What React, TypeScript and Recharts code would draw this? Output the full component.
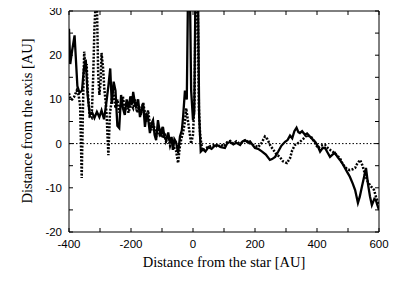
import React from "react";
import { LineChart, Line, XAxis, YAxis, ReferenceLine, Customized } from "recharts";

const xTicks = [-400, -300, -200, -100, 0, 100, 200, 300, 400, 500, 600];
const yTicks = [-20, -15, -10, -5, 0, 5, 10, 15, 20, 25, 30];

const solidX = [
  -400, -396, -390, -382, -373, -366, -358, -352, -346, -340, -333, -325, -318, -310, -302, -295, -287, -280,
  -273, -267, -262, -256, -250, -244, -238, -232, -226, -220, -214, -208, -202, -196, -193, -187, -184, -177,
  -171, -165, -161, -155, -150, -145, -139, -134, -129, -124, -119, -113, -108, -103, -97, -92, -87, -80, -74,
  -69, -65, -60, -55, -48, -42, -36, -32, -26, -20, -16, -10, -6, 0, 4, 8, 16, 20, 25, 32, 40, 50, 60, 70, 77,
  90, 103, 110, 119, 130, 140, 152, 160, 168, 176, 184, 192, 200, 210, 223, 235, 248, 255, 265, 275, 285, 297,
  305, 313, 320, 327, 334, 340, 345, 352, 361, 368, 377, 385, 394, 402, 410, 418, 426, 434, 442, 450, 458, 466,
  474, 482, 490, 498, 506, 515, 523, 532, 538, 545, 552, 558, 565, 571, 577, 585, 590, 595, 600,
];
const solidY = [
  26, 18, 21, 24.5, 13, 11.5, 12, 17, 19, 11, 6.5, 7, 5.8, 7.2, 6, 7.5, 5.5, 9,
  13, 17, 9, 14, 12, 4, 3.5, 11, 8, 6.5, 10, 8, 10.7, 9, 11.7, 9, 8.3, 10,
  6, 8, 9.2, 3.8, 6.5, 5.8, 2.4, 4.5, 5.3, 2, 0.8, 5.3, 3, 1.6, 3.8, 1.5, 0.8, 2.5, 0.1,
  1.5, -1.4, 1, 0.4, -2.1, 1.6, 3, 6, 12, 10, 35, 35, 12, 5.3, 7, 35, 35, 6, -1.8, -1.3, -1.8, -0.8, -1.2, -0.5, -0.3,
  -0.8, -1, 0, 0.4, -0.2, 0.2, -0.3, 0.5, 0.8, 0.3, 0.5, -0.3, -1, -1.2, -1.8, -2.5, -3.7, -3.5, -3, -1.8, -0.5, 0.4,
  0.8, 1.8, 1.2, 2.8, 3.6, 2.6, 2.4, 2.8, 2, 2.3, 1.6, 1, 0.4, -0.5, -1.8, -1, -1, -2, -3, -2.5, -2.1, -3,
  -3.7, -4.5, -5.5, -6.5, -7.5, -9, -10.5, -13.4, -12, -9.7, -7.5, -5.5, -9.4, -12, -13.9, -12.5, -12.8, -14, -15,
];

const dottedX = [
  -400, -395, -390, -384, -375, -369, -364, -359, -355, -351, -347, -343, -340, -333, -327, -322, -318, -314,
  -310, -306, -302, -298, -295, -290, -286, -281, -278, -273, -268, -262, -257, -250, -244, -238, -232, -226,
  -220, -214, -208, -200, -193, -187, -180, -174, -168, -161, -155, -150, -145, -139, -134, -129, -124, -119,
  -113, -108, -103, -97, -92, -87, -80, -74, -68, -62, -55, -48, -43, -38, -32, -26, -22, -18, -12, -6, 0, 5,
  9, 15, 19, 23, 26, 30, 38, 48, 60, 70, 80, 90, 100, 110, 120, 130, 140, 150, 160, 170, 180, 190, 200, 210,
  220, 232, 240, 250, 260, 270, 280, 290, 303, 313, 320, 329, 337, 345, 355, 368, 375, 384, 393, 403, 412, 420,
  426, 435, 444, 452, 462, 474, 482, 490, 498, 506, 515, 523, 530, 539, 547, 555, 563, 571, 578, 584, 590, 595,
  600,
];
const dottedY = [
  11.4, 10, 10, 10.5, 12, 11, 8.5, -7.8, 8, 20.8, 16.3, 18, 12.3, 6, 5.8, 15, 26, 32,
  32, 16, 11, 14, 20.5, 17, 12.3, 9, 5.5, -2.6, 6.8, 10, 11.6, 8, 10, 7, 9, 10.6,
  7.5, 9, 7, 9, 8, 10, 7, 8.5, 6.5, 9.2, 7, 5, 7.5, 4.5, 3, 4.5, 3.5, 1.5,
  3.5, 2.2, 3, 1.2, 2.5, 0.5, 1.5, -0.5, 0.8, -0.8, -1.5, -4.4, -1, 1, 2.5, 5, 8, 6, 3, 0, 2, 10,
  35, 35, 8, 2, 0.4, -1.5, -1.2, -0.8, -0.5, -0.3, -0.8, -0.2, -0.6, 0.3, 0.6, 0, 0.5, 0, 0.3, 0.8, 0.2, -0.2, -0.5, -0.8,
  0, 1.6, 1, -0.5, -1.5, -2.5, -3, -4, -4.4, -3.3, -1.5, -0.3, 0, 0.4, 1, 2, 1.5, 1.3, 0.2, -1, -0.5, -0.3,
  -0.3, -1, -1.5, -1.9, -2.5, -3.3, -4.5, -5.3, -5.8, -6, -5.8, -5.5, -4.5, -3.7, -5, -7, -8.5, -9.4, -10, -10.5, -12, -13,
  -13.9,
];

const solidData = solidX.map((x, i) => ({ x, y: solidY[i] }));
const dottedData = dottedX.map((x, i) => ({ x, y: dottedY[i] }));

const sans = "'Liberation Sans', Arial, Helvetica, sans-serif";
const serif = "'Liberation Serif', 'Times New Roman', serif";

const XTick = (props: any) => {
  const { x, y, payload } = props;
  if (Math.abs(payload.value) % 200 !== 0) return <g />;
  return (
    <text x={x} y={y + 16} textAnchor="middle" fontSize={11.5} fontFamily={sans} fill="#000">
      {payload.value}
    </text>
  );
};

const YTick = (props: any) => {
  const { x, y, payload } = props;
  if (Math.abs(payload.value) % 10 !== 0) return <g />;
  return (
    <text x={x - 7} y={y + 4} textAnchor="end" fontSize={11.5} fontFamily={sans} fill="#000">
      {payload.value}
    </text>
  );
};

const Empty = () => <g />;

const Titles = () => (
  <g>
    <text x={224} y={267} textAnchor="middle" fontSize={14.5} fontFamily={serif} fill="#000">
      Distance from the star [AU]
    </text>
    <text
      x={32}
      y={121}
      transform="rotate(-90 32 121)"
      textAnchor="middle"
      fontSize={14.5}
      fontFamily={serif}
      fill="#000"
    >
      Distance from the axis [AU]
    </text>
  </g>
);

const line = { stroke: "#000", strokeWidth: 1 };

export default function App() {
  return (
    <div style={{ marginTop: -8, marginLeft: -8, width: 415, height: 290, background: "#fff" }}>
      <LineChart width={415} height={290} margin={{ top: 10, right: 35, bottom: 0, left: 0 }}>
        <XAxis
          type="number"
          dataKey="x"
          domain={[-400, 600]}
          ticks={xTicks}
          interval={0}
          allowDataOverflow
          height={58}
          tickSize={-4}
          tickMargin={4}
          tick={<XTick />}
          axisLine={line}
          tickLine={line}
        />
        <XAxis
          xAxisId="top"
          orientation="top"
          type="number"
          dataKey="x"
          domain={[-400, 600]}
          ticks={xTicks}
          interval={0}
          allowDataOverflow
          height={1}
          tickSize={-4}
          tick={<Empty />}
          axisLine={line}
          tickLine={line}
        />
        <YAxis
          type="number"
          domain={[-20, 30]}
          ticks={yTicks}
          interval={0}
          allowDataOverflow
          width={69}
          tickSize={-4}
          tickMargin={4}
          tick={<YTick />}
          axisLine={line}
          tickLine={line}
        />
        <YAxis
          yAxisId="right"
          orientation="right"
          type="number"
          domain={[-20, 30]}
          ticks={yTicks}
          interval={0}
          allowDataOverflow
          width={1}
          tickSize={-4}
          tick={<Empty />}
          axisLine={line}
          tickLine={line}
        />
        <ReferenceLine y={0} stroke="#000" strokeWidth={1} strokeDasharray="1.5 2" ifOverflow="hidden" />
        <Line
          data={dottedData}
          dataKey="y"
          type="linear"
          stroke="#000"
          strokeWidth={2.5}
          strokeDasharray="2 1.5"
          dot={false}
          isAnimationActive={false}
        />
        <Line
          data={solidData}
          dataKey="y"
          type="linear"
          stroke="#000"
          strokeWidth={2.3}
          dot={false}
          isAnimationActive={false}
        />
        <Customized component={Titles} />
      </LineChart>
    </div>
  );
}
